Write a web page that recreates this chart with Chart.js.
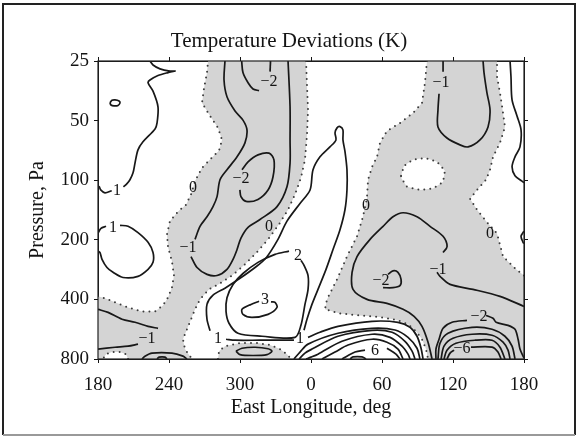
<!DOCTYPE html>
<html>
<head>
<meta charset="utf-8">
<script src="https://cdn.jsdelivr.net/npm/chart.js@4.4.1/dist/chart.umd.min.js"></script>
<style>
  html, body { margin: 0; padding: 0; background: #fff; }
</style>
</head>
<body>
<canvas id="tempChart" width="578" height="437"></canvas>
<script>
// Axis ticks (longitude is unwrapped: 360 = 0 deg, 540 = 180 deg)
const lonTicks = [180, 240, 300, 360, 420, 480, 540];
const lonLabels = ['180', '240', '300', '0', '60', '120', '180'];
const pressureTicks = [25, 50, 100, 200, 400, 800];

// Zero contour (dotted) pieces, [east longitude, pressure Pa]
const zeroBandRight = [[355.8,25],[356.6,33],[357.5,44.2],[356.6,59],[354.9,78.9],[351.5,97.2],[346.5,118],[340.6,141],[333,167],[323.7,199],[313.5,234],[303.4,269],[293.2,303],[283.1,332],[273.8,356],[266.2,400],[262,449],[258.6,504],[255.2,566],[251.8,636],[253.5,713],[259.4,800]];
const zeroBandPatch = [[205.4,800],[203.7,756],[198.6,738],[191.8,738],[186.8,756],[184.2,800]];
const zeroBandLeft = [[180,386],[185.9,395],[194.4,414],[205.4,439],[217.2,460],[228.2,460],[234.9,429],[239.2,391],[242.5,348],[244.2,303],[242.5,257],[239.2,218],[238.3,188],[240.8,161],[247.6,144],[254.4,133],[258.6,118],[262,101],[267.9,86.6],[275.5,77.8],[282.3,70.8],[284.8,62.6],[281.4,54.4],[274.7,47.4],[267.9,40.7],[269.6,34.3],[272.1,28.6],[273,25]];
const zeroLowPatch = [[281.4,800],[282.3,730],[287.3,689],[300,665],[315.2,665],[325.4,680],[333.8,713],[339.7,756],[343.1,800]];
const zeroEastLeft = [[458,25],[456.3,32.2],[453.8,40.7],[446.2,45.8],[435.2,51.4],[424.2,56.4],[418.3,64.8],[415.8,76.2],[411.6,85.6],[408.2,99.5],[407.3,123],[403.9,153],[398.9,192],[390.4,243],[382,317],[373.5,400],[371.8,449],[384.5,471],[401.4,482],[420,493],[433.5,510],[442,534],[448.7,580],[453.8,636],[457.2,713],[458.9,800]];
const zeroEastRight = [[540,303],[533.3,282],[522.3,243],[517.2,186],[508.7,163],[500.3,141],[494.4,124],[500.3,112],[507.9,99.5],[511.3,88.6],[513.8,76.2],[519.7,64.8],[523.9,53.8],[522.3,45.8],[519.7,36.2],[517.2,30],[517.2,25]];
const eastHole = [[436.1,95],[438.6,84.6],[446.2,78.9],[456.3,77.1],[466.5,80.8],[473.2,89.6],[471.6,102],[463.1,110],[452.1,112],[441.1,108],[436.1,97.2],[436.1,95]];

// Solid contours
const posTopLeft = [[223.9,25],[226.5,26.2],[232.4,27.4],[240.8,28.1],[245.1,28.1],[239.2,28.6],[230.7,29.6],[223.9,31.2],[222.3,32.2],[226.5,35.5],[230.7,42.6],[229.9,51.4],[228.2,55.1],[218,64],[213.8,70.3],[211.3,81.7],[209.6,91.8],[207,99.5],[204.5,104],[201.5,108]];
const posTopLeftEnd = [[191.6,113],[185.9,116],[182.3,112],[181.1,108],[180,107]];
const smallLoop = [[190.1,40.7],[191.8,39.5],[194.4,39.3],[197.8,39.8],[198.6,40.7],[196.9,41.9],[193.5,42.1],[191,41.7],[190.1,40.7]];
const posLeftMidA = [[180,185],[182.5,175],[186.8,171]];
const posLeftMidB = [[198.6,169],[205.4,171],[213.8,184],[222.3,206],[226.5,232],[226.5,260],[222.3,282],[213.8,306],[201.1,310],[192.7,292],[187.6,276],[183.4,251],[181.7,232],[180,228]];
const negLowLeftUpper = [[180,449],[188.5,465],[200.3,504],[211.3,522],[222.3,547],[230.7,560]];
const negLowLeftLower = [[180,713],[194.4,698],[205.4,689],[213.8,673]];
const bottomArch = [[217.2,800],[219.7,774],[225.6,747],[242.5,747],[251.8,774],[255.2,800]];
const bottomArchInner = [[229.9,800],[231.6,783],[236.6,783],[238.3,800]];
const lowEllipse = [[296.6,730],[301.7,706],[312.7,698],[323.7,710],[327,730],[322.8,760],[311,768],[300,760],[296.6,730]];

const negTwoTopA = [[301.4,25],[302.5,28.6],[306.8,32.2],[311,34.6],[316.1,35.3]];
const negTwoTopB = [[325.4,28.3],[325.8,25]];
const negOneBandA = [[287.3,25],[286.5,31.2],[289,37.9],[295.8,44.7],[302.5,49.7],[305.9,55.7],[304.2,64.8],[297.5,76.2],[289,88.6],[283.1,99.5],[280.6,121],[277.2,136],[272.1,153],[266.2,171],[262,199]];
const negOneBandB = [[258.6,243],[263.7,276],[272.1,299],[280.6,303],[289,282],[294.1,251],[297.5,224],[300.8,196],[306.8,173],[316.9,158],[331.3,136],[339.7,108],[342.3,81.7],[342.3,62.6],[342.3,42.6],[340.6,25]];
const negTwoLoop = [[301.7,88.6],[306.8,80.8],[315.2,74.5],[324.5,73],[328.7,78.9],[327.9,96.1],[323.7,112],[315.2,125],[305.1,128],[300.8,121],[299.9,112]];

const posThree = [[326.2,412],[329.6,414],[331.3,439],[323.7,476],[310.1,493],[302.5,476],[301.7,449],[309.3,424],[316.1,409]];
const posTwo = [[341.4,228],[329.6,237],[315.2,260],[302.5,296],[294.1,336],[289,392],[288.2,460],[290.7,528],[298.3,593],[318.6,614],[346.5,622],[351.5,540],[354.9,424],[357.5,356],[357.5,303],[354.1,269],[351.5,254]];
const posOneRight = [[454.7,800],[453,706],[449.6,614],[443.7,553],[433.5,522],[411.6,516],[382.8,547],[367.6,586],[357.5,622]];
const posOneBottom = [[345.6,643],[316.9,643],[295.8,643],[288.2,636]];
const posOneFinger = [[274.7,576],[272.1,504],[272.1,424],[277.2,381],[287.3,351],[300,313],[312.7,276],[322,247],[332.1,199],[339.7,161],[350.7,131],[359.2,112],[361.7,88.6],[367.6,76.2],[376,67.9],[381.1,62.6],[380.3,57.7],[382,54.4],[384.5,53.6],[387,55.7],[387,62.6],[388.7,71.5],[390.4,88.6],[390.4,112],[388.7,141],[384.5,178],[378.6,224],[372.7,282],[365.9,356],[360.8,424],[356.6,504],[354.1,572]];
const posB2 = [[345.6,800],[350.7,738],[357.5,673],[382.8,593],[411.6,560],[431,571],[442,622],[449.6,706],[452.1,800]];
const posB3 = [[349.9,800],[354.9,747],[360.8,713],[382.8,614],[411.6,573],[428.5,586],[439.4,651],[445.4,730],[447.9,800]];
const posB4 = [[355.8,800],[360,783],[365.9,756],[386.2,651],[411.6,600],[426.8,622],[436.9,689],[442,756],[443.7,800]];
const posB5 = [[369.3,800],[380.3,738],[391.3,680],[411.6,636],[424.2,658],[433.5,713],[437.8,800]];
const posSixA = [[386.2,800],[397.2,738],[405.6,722]];
const posSixB = [[424.2,706],[431.8,756],[435.2,800]];
const posSeven = [[393,800],[395.5,781],[403.1,781],[406.5,800]];

const negOneCA = [[540,434],[519.7,386],[496.9,356],[477.5,336],[469,306],[466.5,292]];
const negOneCB = [[471.6,232],[475,216],[471.6,192],[460.6,171],[449.6,153],[437.8,146],[429.3,153],[420.9,171],[409.9,199],[398.9,243],[394.7,292],[395.5,356],[407.3,400],[424.2,419],[437.8,449],[447.1,487],[453.8,547],[458.9,658],[462.3,800]];
const negTwoC = [[425.1,299],[429.3,287],[433.5,292],[436.1,317],[435.2,341],[429.3,349],[420.9,349]];
const negTwoA = [[465.6,800],[465.6,713],[468.2,636],[471.6,560],[479.2,522],[491.8,510]];
const negTwoB = [[507.9,482],[513.8,498],[516.4,522],[526.5,541],[532.4,566],[535,636],[536.6,713],[539.2,774],[540,790]];
const negThree = [[467.3,800],[469,666],[475.8,593],[496.1,554],[513,566],[523.9,614],[529.9,689],[532.4,800]];
const negFour = [[469.9,800],[472.4,689],[480,629],[496.1,600],[513,607],[522.3,658],[526.5,722],[528.2,800]];
const negFive = [[472.4,800],[474.9,722],[482.5,666],[498.6,643],[513,643],[519.7,697],[523.9,800]];
const negSixA = [[474.9,800],[477.5,747],[480.9,722]];
const negSixB = [[495.2,697],[513,697],[518,738],[520.6,800]];
const negOneTopA = [[471.6,25],[471.6,28.3]];
const negOneTopB = [[468.2,36.6],[467.3,44.2],[467.3,53.8],[474.9,61.2],[485.9,66.3],[492.7,67.9],[502.8,62.6],[509.6,53.8],[511.3,44.2],[508.7,36.2],[506.2,28.6],[505.4,25]];
const posRightEdge = [[528.2,25],[529,30],[529.9,39.3],[534.1,47.4],[537.5,55.7],[536.6,67.9],[532.4,76.2],[529.9,85.6],[532.4,95],[538.3,101],[540,103]];
const posRightNotch = [[540,181],[537.5,192],[539.2,206],[540,209]];

// Contour labels: [text, longitude, pressure]
const contourLabels = [
  ['1', 196, 113], ['1', 192.7, 173], ['\u22121', 221.4, 629],
  ['\u22122', 324.5, 32], ['\u22122', 300.8, 98.4], ['0', 260.3, 109],
  ['\u22121', 256.1, 219], ['0', 324.5, 171], ['2', 349, 241], ['3', 321.1, 404],
  ['1', 281.4, 636], ['1', 350.7, 636], ['6', 414.1, 730], ['0', 406.5, 134],
  ['\u22121', 469.9, 32.2], ['\u22122', 419.2, 321], ['\u22121', 467.3, 282],
  ['0', 511.3, 186], ['\u22122', 502, 487], ['\u22126', 487.6, 713]
];

const solidLines = [posTopLeft, posTopLeftEnd, smallLoop, posLeftMidA, posLeftMidB, negLowLeftUpper, negLowLeftLower,
  bottomArch, bottomArchInner, lowEllipse, negTwoTopA, negTwoTopB, negOneBandA, negOneBandB, negTwoLoop,
  posThree, posTwo, posOneRight, posOneBottom, posOneFinger, posB2, posB3, posB4, posB5, posSixA, posSixB, posSeven,
  negOneCA, negOneCB, negTwoC, negTwoA, negTwoB, negThree, negFour, negFive, negSixA, negSixB,
  negOneTopA, negOneTopB, posRightEdge, posRightNotch];
const dottedLines = [zeroBandRight, zeroBandPatch, zeroBandLeft, zeroLowPatch, zeroEastLeft, zeroEastRight, eastHole];

// Negative areas, closed along the plot frame
const shadedRegions = [
  [...zeroBandRight, ...zeroBandPatch, [180, 800], ...zeroBandLeft],
  zeroLowPatch,
  [...zeroEastLeft, [540, 800], ...zeroEastRight]
];

const ink = '#141414';
const serif = 'Liberation Serif';

const toPoints = arr => arr.map(([x, y]) => ({ x, y }));

const solid = arr => ({
  data: toPoints(arr),
  showLine: true,
  borderColor: '#181818',
  borderWidth: 1.7,
  pointRadius: 0,
  tension: 0.3,
  fill: false
});

const dotted = arr => ({
  data: toPoints(arr),
  showLine: true,
  borderColor: '#3c3c3c',
  borderWidth: 2,
  borderDash: [0, 6],
  borderCapStyle: 'round',
  pointRadius: 0,
  tension: 0,
  fill: false
});

function tracePath(ctx, x, y, pts) {
  ctx.beginPath();
  pts.forEach(([lon, p], i) => {
    const px = x.getPixelForValue(lon);
    const py = y.getPixelForValue(p);
    if (i === 0) ctx.moveTo(px, py); else ctx.lineTo(px, py);
  });
  ctx.closePath();
}

// Gray fill for negative deviations
const shading = {
  id: 'shading',
  beforeDatasetsDraw(chart) {
    const { ctx, chartArea: a, scales: { x, y } } = chart;
    ctx.save();
    ctx.beginPath();
    ctx.rect(a.left, a.top, a.width, a.height);
    ctx.clip();
    ctx.fillStyle = '#d4d4d4';
    shadedRegions.forEach(r => { tracePath(ctx, x, y, r); ctx.fill(); });
    ctx.fillStyle = '#ffffff';
    tracePath(ctx, x, y, eastHole);
    ctx.fill();
    ctx.restore();
  }
};

// Contour values, plot box and outer frame
const annotations = {
  id: 'annotations',
  afterDatasetsDraw(chart) {
    const { ctx, chartArea: a, scales: { x, y } } = chart;
    ctx.save();
    ctx.font = '16px "' + serif + '"';
    ctx.fillStyle = ink;
    ctx.textAlign = 'center';
    ctx.textBaseline = 'middle';
    contourLabels.forEach(([t, lon, p]) => ctx.fillText(t, x.getPixelForValue(lon), y.getPixelForValue(p)));
    ctx.strokeStyle = '#222';
    ctx.lineWidth = 1.2;
    ctx.strokeRect(a.left, a.top, a.width, a.height);
    ctx.restore();
  },
  afterDraw(chart) {
    const { ctx } = chart;
    ctx.save();
    ctx.lineWidth = 2;
    ctx.strokeStyle = '#222';
    ctx.beginPath();
    ctx.moveTo(3, 435); ctx.lineTo(3, 4); ctx.lineTo(575, 4); ctx.lineTo(575, 435);
    ctx.stroke();
    ctx.strokeStyle = '#999';
    ctx.beginPath();
    ctx.moveTo(3, 435); ctx.lineTo(575, 435);
    ctx.stroke();
    ctx.restore();
  }
};

const tickFont = { family: serif, size: 19 };
const axisFont = { family: serif, size: 20 };
const lonAxisTicks = axis => { axis.ticks = lonTicks.map(v => ({ value: v })); };
const pressureAxisTicks = axis => { axis.ticks = pressureTicks.map(v => ({ value: v })); };

new Chart(document.getElementById('tempChart'), {
  type: 'scatter',
  data: {
    datasets: [...dottedLines.map(dotted), ...solidLines.map(solid)]
  },
  options: {
    responsive: false,
    animation: false,
    devicePixelRatio: 1,
    layout: { padding: 0 },
    plugins: {
      legend: { display: false },
      tooltip: { enabled: false },
      title: {
        display: true,
        text: 'Temperature Deviations (K)',
        color: ink,
        font: { family: serif, size: 21, weight: 'normal' },
        padding: { top: 29, bottom: 0 }
      }
    },
    scales: {
      x: {
        type: 'linear',
        position: 'bottom',
        min: 180,
        max: 540,
        afterBuildTicks: lonAxisTicks,
        afterFit: axis => { axis.height = 78; },
        ticks: {
          callback: v => lonLabels[lonTicks.indexOf(v)],
          font: tickFont,
          color: ink,
          padding: 11,
          maxRotation: 0,
          autoSkip: false
        },
        grid: { drawOnChartArea: false, tickLength: 4, color: ink },
        border: { color: ink },
        title: { display: true, text: 'East Longitude, deg', font: axisFont, color: ink, padding: { top: 0, bottom: 17 } }
      },
      xTop: {
        type: 'linear',
        position: 'top',
        min: 180,
        max: 540,
        afterBuildTicks: lonAxisTicks,
        afterFit: axis => { axis.height = 61 - 29 - 25.2; },
        ticks: { display: false },
        grid: { drawOnChartArea: false, tickLength: 4, color: ink },
        border: { color: ink }
      },
      y: {
        type: 'logarithmic',
        position: 'left',
        reverse: true,
        min: 25,
        max: 800,
        afterBuildTicks: pressureAxisTicks,
        afterFit: axis => { axis.width = 98; },
        ticks: { callback: v => String(v), font: tickFont, color: ink, padding: 5, autoSkip: false },
        grid: { drawOnChartArea: false, tickLength: 4, color: ink },
        border: { color: ink },
        title: { display: true, text: 'Pressure, Pa', font: axisFont, color: ink, padding: { top: 26, bottom: 0 } }
      },
      yRight: {
        type: 'logarithmic',
        position: 'right',
        reverse: true,
        min: 25,
        max: 800,
        afterBuildTicks: pressureAxisTicks,
        afterFit: axis => { axis.width = 54; },
        ticks: { display: false },
        grid: { drawOnChartArea: false, tickLength: 4, color: ink },
        border: { color: ink }
      }
    }
  },
  plugins: [shading, annotations]
});
</script>
</body>
</html>
